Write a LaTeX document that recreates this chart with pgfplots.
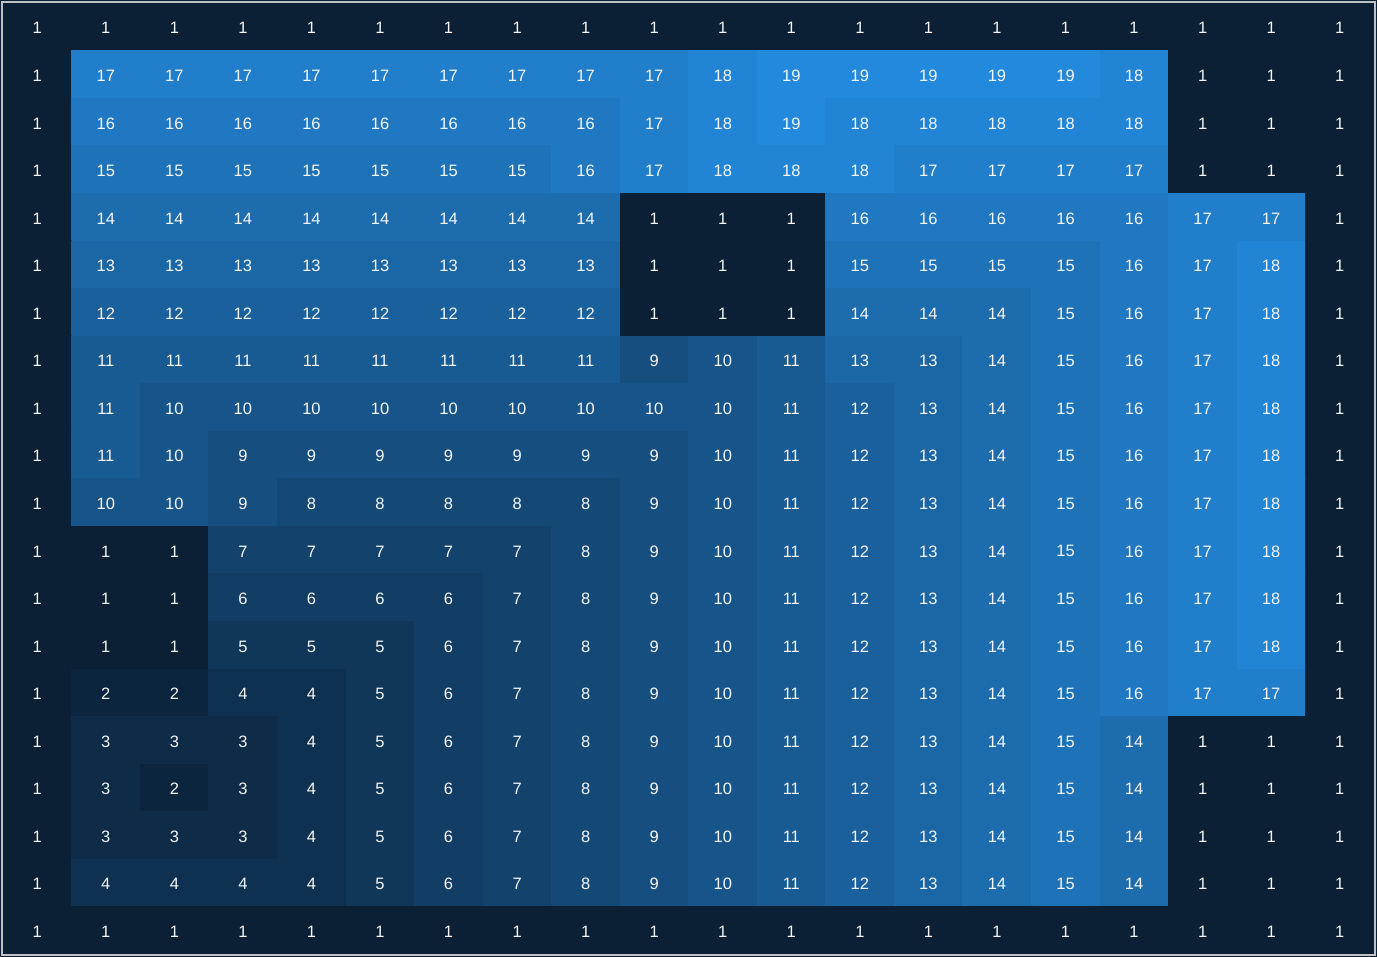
\documentclass[border=0pt]{standalone}
\usepackage{pgfplots}
\pgfplotsset{compat=1.18}
\usepackage{fontspec}
\setmainfont{Liberation Sans}
\definecolor{bgdark}{RGB}{11,31,53}
\definecolor{framegray}{RGB}{190,194,198}
\begin{document}
\begin{tikzpicture}[x=1pt,y=1pt]
\fill[bgdark] (0,0) rectangle (1377,957);
\begin{axis}[
  at={(3pt,3pt)}, anchor=south west,
  width=1371pt, height=951pt, scale only axis,
  xmin=-0.5, xmax=19.5, ymin=-0.5, ymax=19.5,
  y dir=reverse, hide axis, enlargelimits=false,
  colormap={navyblue}{rgb255(0)=(11,31,53) rgb255(1)=(35,137,220)},
  point meta min=1, point meta max=19,
  /pgf/number format/assume math mode=true,
  nodes near coords={\pgfmathprintnumber[fixed,precision=0,assume math mode=true]{\pgfplotspointmeta}},
  nodes near coords style={anchor=center, yshift=-1.5pt, text=white!94!gray, font=\fontsize{16.5}{16.5}\selectfont, inner sep=0pt},
]
\addplot[matrix plot*, mesh/cols=20, mesh/ordering=x varies, point meta=explicit, draw=none] coordinates {
(0,0)[1] (1,0)[1] (2,0)[1] (3,0)[1] (4,0)[1] (5,0)[1] (6,0)[1] (7,0)[1] (8,0)[1] (9,0)[1] (10,0)[1] (11,0)[1] (12,0)[1] (13,0)[1] (14,0)[1] (15,0)[1] (16,0)[1] (17,0)[1] (18,0)[1] (19,0)[1]
(0,1)[1] (1,1)[17] (2,1)[17] (3,1)[17] (4,1)[17] (5,1)[17] (6,1)[17] (7,1)[17] (8,1)[17] (9,1)[17] (10,1)[18] (11,1)[19] (12,1)[19] (13,1)[19] (14,1)[19] (15,1)[19] (16,1)[18] (17,1)[1] (18,1)[1] (19,1)[1]
(0,2)[1] (1,2)[16] (2,2)[16] (3,2)[16] (4,2)[16] (5,2)[16] (6,2)[16] (7,2)[16] (8,2)[16] (9,2)[17] (10,2)[18] (11,2)[19] (12,2)[18] (13,2)[18] (14,2)[18] (15,2)[18] (16,2)[18] (17,2)[1] (18,2)[1] (19,2)[1]
(0,3)[1] (1,3)[15] (2,3)[15] (3,3)[15] (4,3)[15] (5,3)[15] (6,3)[15] (7,3)[15] (8,3)[16] (9,3)[17] (10,3)[18] (11,3)[18] (12,3)[18] (13,3)[17] (14,3)[17] (15,3)[17] (16,3)[17] (17,3)[1] (18,3)[1] (19,3)[1]
(0,4)[1] (1,4)[14] (2,4)[14] (3,4)[14] (4,4)[14] (5,4)[14] (6,4)[14] (7,4)[14] (8,4)[14] (9,4)[1] (10,4)[1] (11,4)[1] (12,4)[16] (13,4)[16] (14,4)[16] (15,4)[16] (16,4)[16] (17,4)[17] (18,4)[17] (19,4)[1]
(0,5)[1] (1,5)[13] (2,5)[13] (3,5)[13] (4,5)[13] (5,5)[13] (6,5)[13] (7,5)[13] (8,5)[13] (9,5)[1] (10,5)[1] (11,5)[1] (12,5)[15] (13,5)[15] (14,5)[15] (15,5)[15] (16,5)[16] (17,5)[17] (18,5)[18] (19,5)[1]
(0,6)[1] (1,6)[12] (2,6)[12] (3,6)[12] (4,6)[12] (5,6)[12] (6,6)[12] (7,6)[12] (8,6)[12] (9,6)[1] (10,6)[1] (11,6)[1] (12,6)[14] (13,6)[14] (14,6)[14] (15,6)[15] (16,6)[16] (17,6)[17] (18,6)[18] (19,6)[1]
(0,7)[1] (1,7)[11] (2,7)[11] (3,7)[11] (4,7)[11] (5,7)[11] (6,7)[11] (7,7)[11] (8,7)[11] (9,7)[9] (10,7)[10] (11,7)[11] (12,7)[13] (13,7)[13] (14,7)[14] (15,7)[15] (16,7)[16] (17,7)[17] (18,7)[18] (19,7)[1]
(0,8)[1] (1,8)[11] (2,8)[10] (3,8)[10] (4,8)[10] (5,8)[10] (6,8)[10] (7,8)[10] (8,8)[10] (9,8)[10] (10,8)[10] (11,8)[11] (12,8)[12] (13,8)[13] (14,8)[14] (15,8)[15] (16,8)[16] (17,8)[17] (18,8)[18] (19,8)[1]
(0,9)[1] (1,9)[11] (2,9)[10] (3,9)[9] (4,9)[9] (5,9)[9] (6,9)[9] (7,9)[9] (8,9)[9] (9,9)[9] (10,9)[10] (11,9)[11] (12,9)[12] (13,9)[13] (14,9)[14] (15,9)[15] (16,9)[16] (17,9)[17] (18,9)[18] (19,9)[1]
(0,10)[1] (1,10)[10] (2,10)[10] (3,10)[9] (4,10)[8] (5,10)[8] (6,10)[8] (7,10)[8] (8,10)[8] (9,10)[9] (10,10)[10] (11,10)[11] (12,10)[12] (13,10)[13] (14,10)[14] (15,10)[15] (16,10)[16] (17,10)[17] (18,10)[18] (19,10)[1]
(0,11)[1] (1,11)[1] (2,11)[1] (3,11)[7] (4,11)[7] (5,11)[7] (6,11)[7] (7,11)[7] (8,11)[8] (9,11)[9] (10,11)[10] (11,11)[11] (12,11)[12] (13,11)[13] (14,11)[14] (15,11)[15] (16,11)[16] (17,11)[17] (18,11)[18] (19,11)[1]
(0,12)[1] (1,12)[1] (2,12)[1] (3,12)[6] (4,12)[6] (5,12)[6] (6,12)[6] (7,12)[7] (8,12)[8] (9,12)[9] (10,12)[10] (11,12)[11] (12,12)[12] (13,12)[13] (14,12)[14] (15,12)[15] (16,12)[16] (17,12)[17] (18,12)[18] (19,12)[1]
(0,13)[1] (1,13)[1] (2,13)[1] (3,13)[5] (4,13)[5] (5,13)[5] (6,13)[6] (7,13)[7] (8,13)[8] (9,13)[9] (10,13)[10] (11,13)[11] (12,13)[12] (13,13)[13] (14,13)[14] (15,13)[15] (16,13)[16] (17,13)[17] (18,13)[18] (19,13)[1]
(0,14)[1] (1,14)[2] (2,14)[2] (3,14)[4] (4,14)[4] (5,14)[5] (6,14)[6] (7,14)[7] (8,14)[8] (9,14)[9] (10,14)[10] (11,14)[11] (12,14)[12] (13,14)[13] (14,14)[14] (15,14)[15] (16,14)[16] (17,14)[17] (18,14)[17] (19,14)[1]
(0,15)[1] (1,15)[3] (2,15)[3] (3,15)[3] (4,15)[4] (5,15)[5] (6,15)[6] (7,15)[7] (8,15)[8] (9,15)[9] (10,15)[10] (11,15)[11] (12,15)[12] (13,15)[13] (14,15)[14] (15,15)[15] (16,15)[14] (17,15)[1] (18,15)[1] (19,15)[1]
(0,16)[1] (1,16)[3] (2,16)[2] (3,16)[3] (4,16)[4] (5,16)[5] (6,16)[6] (7,16)[7] (8,16)[8] (9,16)[9] (10,16)[10] (11,16)[11] (12,16)[12] (13,16)[13] (14,16)[14] (15,16)[15] (16,16)[14] (17,16)[1] (18,16)[1] (19,16)[1]
(0,17)[1] (1,17)[3] (2,17)[3] (3,17)[3] (4,17)[4] (5,17)[5] (6,17)[6] (7,17)[7] (8,17)[8] (9,17)[9] (10,17)[10] (11,17)[11] (12,17)[12] (13,17)[13] (14,17)[14] (15,17)[15] (16,17)[14] (17,17)[1] (18,17)[1] (19,17)[1]
(0,18)[1] (1,18)[4] (2,18)[4] (3,18)[4] (4,18)[4] (5,18)[5] (6,18)[6] (7,18)[7] (8,18)[8] (9,18)[9] (10,18)[10] (11,18)[11] (12,18)[12] (13,18)[13] (14,18)[14] (15,18)[15] (16,18)[14] (17,18)[1] (18,18)[1] (19,18)[1]
(0,19)[1] (1,19)[1] (2,19)[1] (3,19)[1] (4,19)[1] (5,19)[1] (6,19)[1] (7,19)[1] (8,19)[1] (9,19)[1] (10,19)[1] (11,19)[1] (12,19)[1] (13,19)[1] (14,19)[1] (15,19)[1] (16,19)[1] (17,19)[1] (18,19)[1] (19,19)[1]
};
\end{axis}
\draw[framegray, line width=1.5pt] (2,2) rectangle (1375,955);
\end{tikzpicture}
\end{document}
